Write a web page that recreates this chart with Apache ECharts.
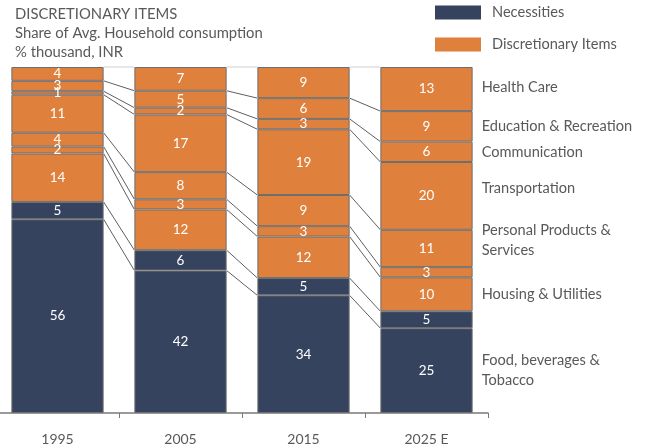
<!DOCTYPE html>
<html>
<head>
<meta charset="utf-8">
<script src="https://cdn.jsdelivr.net/npm/echarts@6/dist/echarts.min.js"></script>
<style>
  html, body { margin: 0; padding: 0; background: #fff; }
  #main { width: 648px; height: 446px; }
</style>
</head>
<body>
<div id="main"></div>
<script>
  // data, bottom segment first
  const years = ['1995', '2005', '2015', '2025 E'];
  const food = [56, 42, 34, 25];
  const necOther = [5, 6, 5, 5];
  const housing = [14, 12, 12, 10];
  const misc = [2, 3, 3, 3];
  const personal = [4, 8, 9, 11];
  const transport = [11, 17, 19, 20];
  const communication = [1, 2, 3, 6];
  const education = [3, 5, 6, 9];
  const health = [4, 7, 9, 13];
  const groupNames = ['Necessities', 'Discretionary Items'];
  const sideLabels = ['Food, beverages &\nTobacco', '', 'Housing & Utilities', '', 'Personal Products &\nServices',
    'Transportation', 'Communication', 'Education & Recreation', 'Health Care'];

  const segments = [food, necOther, housing, misc, personal, transport, communication, education, health];
  const groupOf = [0, 0, 1, 1, 1, 1, 1, 1, 1];
  const colors = ['#36435f', '#e0803d'];
  const sideOffsets = [0, 0, 0, 0, -8, -8, 0, 0, -2];
  const textGray = '#595959';
  const font = 'Lato';
  const barFrac = 0.75;

  // each bar drawn as share of its own total, labels keep the printed numbers
  const totals = years.map((y, j) => segments.reduce((s, arr) => s + arr[j], 0));
  const norm = segments.map(arr => arr.map((v, j) => v / totals[j] * 100));

  // cumulative tops of every segment
  const cum = years.map((y, j) => {
    let acc = 0;
    return norm.map(arr => (acc += arr[j]));
  });

  let connectors = [];
  for (let j = 0; j < years.length - 1; j++) {
    for (let k = 0; k < segments.length; k++) {
      connectors.push([j, cum[j][k], cum[j + 1][k], k === segments.length - 1 ? 1 : 0]);
    }
  }

  const last = years.length - 1;
  let sideData = [];
  sideLabels.forEach((t, i) => {
    if (!t) return;
    sideData.push([last, cum[last][i] - norm[i][last] / 2, i]);
  });

  let series = segments.map((arr, i) => ({
    name: groupNames[groupOf[i]],
    type: 'bar',
    stack: 'total',
    barWidth: (barFrac * 100) + '%',
    itemStyle: {
      color: colors[groupOf[i]],
      borderColor: '#6e6e6e',
      borderWidth: 1
    },
    label: {
      show: true,
      position: 'inside',
      color: '#fff',
      fontSize: 13.5,
      fontFamily: font,
      formatter: p => String(arr[p.dataIndex])
    },
    emphasis: { disabled: true },
    data: norm[i]
  }));

  // thin lines linking the same boundary from one bar to the next
  series.push({
    type: 'custom',
    silent: true,
    encode: { x: 0, y: 1 },
    renderItem: function (params, api) {
      const j = api.value(0);
      const p1 = api.coord([j, api.value(1)]);
      const p2 = api.coord([j + 1, api.value(2)]);
      const half = api.size([1, 0])[0] * barFrac / 2;
      return {
        type: 'line',
        shape: { x1: p1[0] + half, y1: p1[1], x2: p2[0] - half, y2: p2[1] },
        style: { stroke: api.value(3) ? '#cfcfcf' : '#5f5f5f', lineWidth: 1 }
      };
    },
    data: connectors
  });

  // category names to the right of the last bar
  series.push({
    type: 'custom',
    silent: true,
    encode: { x: 0, y: 1 },
    renderItem: function (params, api) {
      const i = api.value(2);
      const p = api.coord([api.value(0), api.value(1)]);
      const half = api.size([1, 0])[0] * barFrac / 2;
      return {
        type: 'text',
        x: p[0] + half + 9,
        y: p[1] + sideOffsets[i],
        style: {
          text: sideLabels[i],
          fill: textGray,
          fontSize: 14.6,
          fontFamily: font,
          lineHeight: 20,
          align: 'left',
          verticalAlign: 'middle'
        }
      };
    },
    data: sideData
  });

  let option = {
    backgroundColor: '#fff',
    animation: false,
    textStyle: { fontFamily: font },
    title: {
      text: 'DISCRETIONARY ITEMS\nShare of Avg. Household consumption\n% thousand, INR',
      left: 10,
      top: 0,
      textStyle: { color: textGray, fontSize: 14.8, fontWeight: 'normal', lineHeight: 19, fontFamily: font }
    },
    legend: {
      data: groupNames,
      orient: 'vertical',
      left: 430,
      top: 0,
      itemWidth: 46,
      itemHeight: 14,
      itemGap: 17,
      icon: 'rect',
      itemStyle: { borderWidth: 0 },
      textStyle: { color: textGray, fontSize: 14.6, fontFamily: font, padding: [0, 0, 0, 6] }
    },
    grid: {
      left: -4,
      width: 492,
      top: 67,
      bottom: 33,
      containLabel: false,
      outerBoundsMode: 'none'
    },
    xAxis: {
      type: 'category',
      data: years,
      axisLine: { lineStyle: { color: '#7a7a7a', width: 1.5 } },
      axisTick: { show: true, length: 5, lineStyle: { color: '#7a7a7a' } },
      axisLabel: { color: textGray, fontSize: 14, margin: 19, fontFamily: font }
    },
    yAxis: {
      type: 'value',
      min: 0,
      max: 100,
      show: false,
      splitLine: { show: false }
    },
    series: series
  };

  let myChart = echarts.init(document.getElementById('main'));
  myChart.setOption(option);
</script>
</body>
</html>
